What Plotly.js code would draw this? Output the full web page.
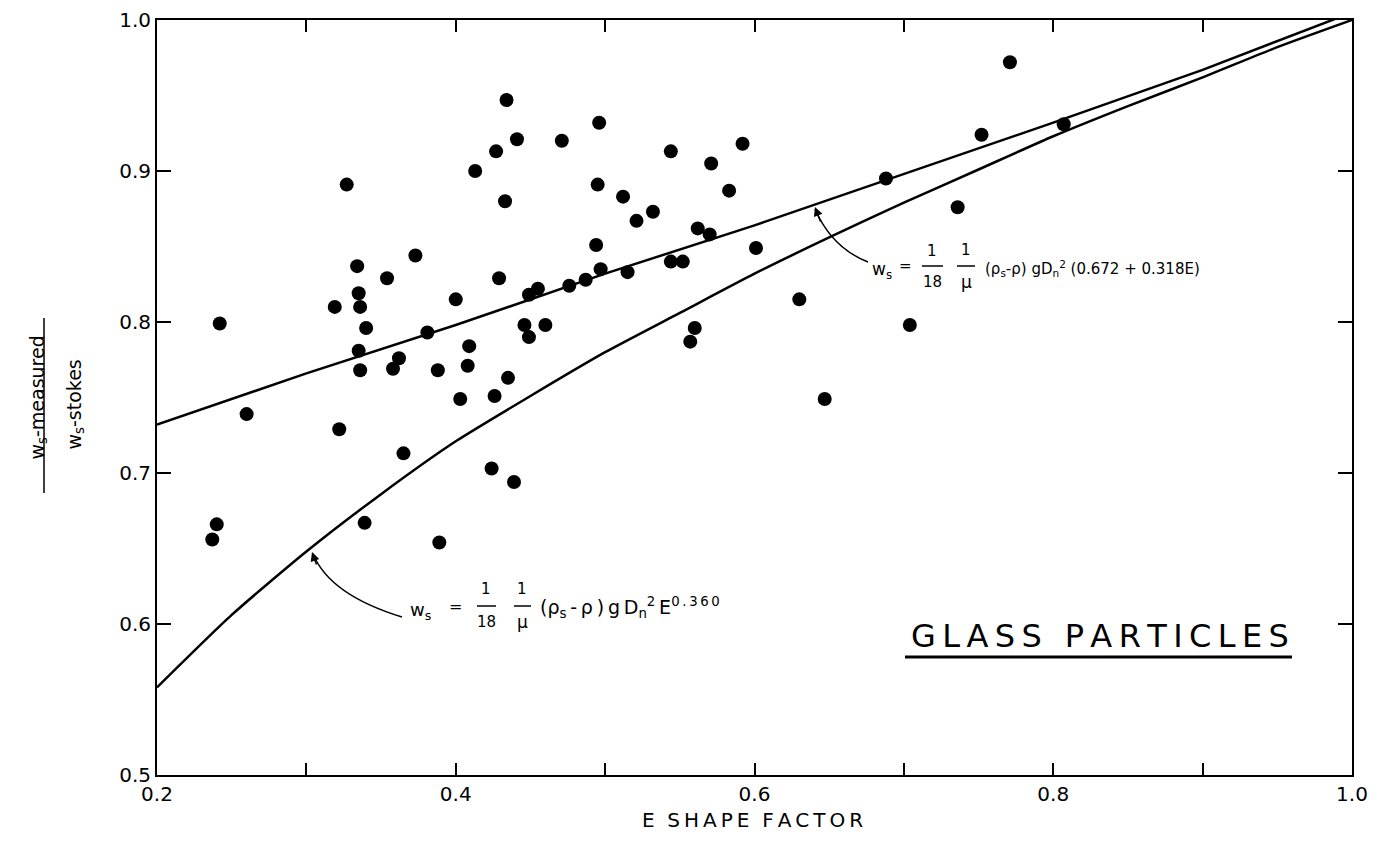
<!DOCTYPE html>
<html><head><meta charset="utf-8">
<script src="https://cdn.plot.ly/plotly-3.0.1.min.js"></script>
<style>html,body{margin:0;padding:0;background:#fff;}#chart{width:1382px;height:854px;}</style>
</head><body><div id="chart"></div>
<script>
// ---- data ----
const shapeFactor = [0.242,0.260,0.240,0.237,0.327,0.322,0.319,0.334,0.335,0.336,0.340,0.335,0.336,0.339,0.354,0.362,0.358,0.365,0.373,0.381,0.388,0.389,0.400,0.403,0.408,0.409,0.413,0.424,0.426,0.427,0.429,0.433,0.434,0.435,0.439,0.441,0.446,0.449,0.449,0.455,0.460,0.471,0.476,0.487,0.494,0.495,0.496,0.497,0.512,0.515,0.521,0.532,0.544,0.544,0.552,0.557,0.560,0.562,0.570,0.571,0.583,0.592,0.601,0.630,0.647,0.688,0.704,0.736,0.752,0.771,0.807];
const velocityRatio = [0.799,0.739,0.666,0.656,0.891,0.729,0.810,0.837,0.819,0.810,0.796,0.781,0.768,0.667,0.829,0.776,0.769,0.713,0.844,0.793,0.768,0.654,0.815,0.749,0.771,0.784,0.900,0.703,0.751,0.913,0.829,0.880,0.947,0.763,0.694,0.921,0.798,0.818,0.790,0.822,0.798,0.920,0.824,0.828,0.851,0.891,0.932,0.835,0.883,0.833,0.867,0.873,0.913,0.840,0.840,0.787,0.796,0.862,0.858,0.905,0.887,0.918,0.849,0.815,0.749,0.895,0.798,0.876,0.924,0.972,0.931];
const powerE = [0.2,0.25,0.3,0.35,0.4,0.45,0.5,0.55,0.6,0.65,0.7,0.75,0.8,0.85,0.9,0.95,1.0];
const powerCurve = [0.558,0.606,0.648,0.686,0.721,0.751,0.780,0.806,0.832,0.856,0.879,0.901,0.923,0.943,0.962,0.982,1.0];
const linearE = [0.2,0.3,0.4,0.5,0.6,0.7,0.8,0.9,1.0];
const linearCurve = [0.732,0.766,0.798,0.832,0.864,0.898,0.932,0.967,1.005];
const xTickVals = [0.2,0.3,0.4,0.5,0.6,0.7,0.8,0.9,1.0];
const xTickText = ['0.2','','0.4','','0.6','','0.8','','1.0'];
const yTickVals = [0.5,0.6,0.7,0.8,0.9,1.0];
const yTickText = ['0.5','0.6','0.7','0.8','0.9','1.0'];

// ---- layout helpers (pixel -> axis / paper) ----
const L=157,R=1352,T=20,B=775;
const X = px => 0.2 + (px-L)/(R-L)*0.8;
const Y = py => 1.0 - (py-T)/(B-T)*0.5;
const P = px => (px-L)/(R-L);
const Q = py => (B-py)/(B-T);
const FONT = 'DejaVu Sans, Liberation Sans, sans-serif';
const TS = '\u2009';
const spaced = s => s.split('').join(TS);

const traces = [
  {x: linearE, y: linearCurve, mode:'lines', line:{color:'#000', width:2.5}, hoverinfo:'skip'},
  {x: powerE, y: powerCurve, mode:'lines', line:{color:'#000', width:2.5, shape:'spline', smoothing:0.6}, hoverinfo:'skip'},
  {x: shapeFactor, y: velocityRatio, mode:'markers', marker:{color:'#000', size:14}}
];

function txt(px, py, s, size, anchor, paper){
  return {xref: paper?'paper':'x', yref: paper?'paper':'y', x: paper?P(px):X(px), y: paper?Q(py):Y(py),
    text:s, showarrow:false, xanchor:anchor||'center', yanchor:'middle',
    font:{family:FONT, size:size||15, color:'#000'}};
}
const annotations = [
  // upper formula
  txt(882,270,'w<sub>s</sub>',17), txt(905,266,'=',15),
  txt(932,251,'1',15), txt(932,282,'18',15),
  txt(966,250,'1',15), txt(966,282,'μ',17),
  txt(983,268,'(ρ<sub>s</sub>-ρ) gD<sub>n</sub><sup>2</sup> (0.672 + 0.318E)',15,'left'),
  // lower formula
  txt(420,611,'w<sub>s</sub>',18), txt(455,606,'=',16),
  txt(486,589,'1',15), txt(486,622,'18',15),
  txt(522,589,'1',15), txt(522,622,'μ',17),
  txt(538,607,'(ρ<sub>s</sub>'+TS+'-'+TS+'ρ'+TS+')'+TS+'g'+TS+'D<sub>n</sub><sup>2</sup>'+TS+'E<sup>'+spaced('0.360')+'</sup>',19,'left'),
  // GLASS PARTICLES
  txt(1100,636,spaced('GLASS')+' '+TS+TS+spaced('PARTICLES'),32),
  // arrowheads
  {xref:'x',yref:'y',x:X(815),y:Y(207),ax:6,ay:16,text:'',showarrow:true,arrowhead:2,arrowsize:1.2,arrowwidth:1.5,arrowcolor:'#000'},
  {xref:'x',yref:'y',x:X(312),y:Y(552),ax:5,ay:14,text:'',showarrow:true,arrowhead:2,arrowsize:1.2,arrowwidth:1.5,arrowcolor:'#000'},
  // y-axis title (fraction)
  {xref:'paper',yref:'paper',x:P(23),y:Q(398),text:'w<sub>s</sub>-measured',textangle:-90,showarrow:false,font:{family:FONT,size:19,color:'#000'}},
  {xref:'paper',yref:'paper',x:P(61),y:Q(405),text:'w<sub>s</sub>-stokes',textangle:-90,showarrow:false,font:{family:FONT,size:19,color:'#000'}},
  // x-axis title
  {xref:'paper',yref:'paper',x:P(752),y:Q(834),text:spaced('E')+'  '+spaced('SHAPE')+'  '+spaced('FACTOR'),showarrow:false,font:{family:FONT,size:20,color:'#000'}}
];

const line = (x0,y0,x1,y1,w,ref) => ({type:'line',xref:ref||'x',yref:ref||'y',
  x0: ref==='paper'?P(x0):X(x0), y0: ref==='paper'?Q(y0):Y(y0),
  x1: ref==='paper'?P(x1):X(x1), y1: ref==='paper'?Q(y1):Y(y1), line:{color:'#000',width:w||1.5}});
const path = (p0,c,p1) => ({type:'path',xref:'x',yref:'y',
  path:`M ${X(p0[0])},${Y(p0[1])} Q ${X(c[0])},${Y(c[1])} ${X(p1[0])},${Y(p1[1])}`,line:{color:'#000',width:1.5}});
const shapes = [
  line(922,266,943,266,1.5), line(957,266,975,266,1.5),
  line(477,606,496,606,1.5), line(514,606,531,606,1.5),
  line(905,657,1292,657,3),
  path([868,262],[832,248],[815,209]),
  path([402,617],[330,595],[313,554]),
  line(44,318,44,493,1.5,'paper')
];

const layout = {
  width:1382, height:854, showlegend:false,
  paper_bgcolor:'#fff', plot_bgcolor:'#fff',
  margin:{l:L, r:1382-R, t:T, b:854-B},
  font:{family:FONT, color:'#000'},
  xaxis:{range:[0.2,1.0], showline:true, linecolor:'#000', linewidth:2, mirror:'ticks',
    ticks:'inside', ticklen:12, tickwidth:2, tickcolor:'#000',
    tickvals:xTickVals, ticktext:xTickText, showgrid:false, zeroline:false,
    tickfont:{family:FONT, size:20, color:'#000'}},
  yaxis:{range:[0.5,1.0], showline:true, linecolor:'#000', linewidth:2, mirror:'ticks',
    ticks:'inside', ticklen:14, tickwidth:2, tickcolor:'#000',
    tickvals:yTickVals, ticktext:yTickText, showgrid:false, zeroline:false,
    tickfont:{family:FONT, size:20, color:'#000'}},
  annotations, shapes
};
Plotly.newPlot('chart', traces, layout, {displayModeBar:false, staticPlot:true});
</script></body></html>
